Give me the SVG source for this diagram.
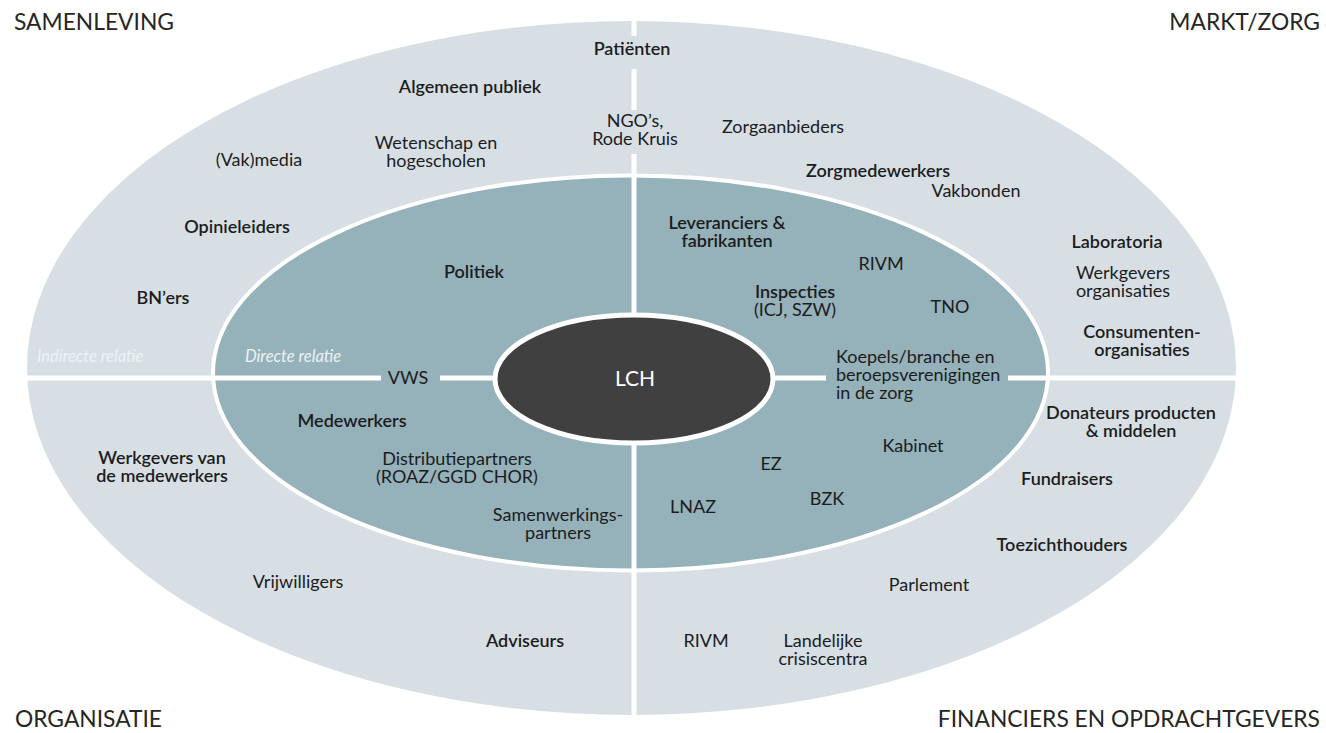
<svg xmlns="http://www.w3.org/2000/svg" width="1326" height="733" viewBox="0 0 1326 733">
  <style>
    text { font-family: Lato, "Liberation Sans", sans-serif; fill: #1c1c1c; }
    .t { font-size: 18px; text-anchor: middle; }
    .b { font-weight: 600; }
    .lft { text-anchor: start; }
    .title { font-size: 22.8px; fill: #262626; }
    .rel { font-size: 16.5px; font-style: italic; fill: #eef2f4; text-anchor: start; }
    .core { font-size: 21px; fill: #ffffff; text-anchor: middle; }
    .ring-outer { fill: #d7dfe5; }
    .ring-inner { fill: #95b1ba; stroke: #ffffff; stroke-width: 4; }
    .hub { fill: #404040; stroke: #ffffff; stroke-width: 5; }
    .div { stroke: #ffffff; stroke-width: 5; fill: none; }
  </style>

  <rect width="1326" height="733" fill="#ffffff"/>

  <!-- rings -->
  <g id="rings">
    <ellipse class="ring-outer" cx="631.5" cy="368" rx="604.5" ry="347"/>
    <ellipse class="ring-inner" cx="630.5" cy="373" rx="417.5" ry="197.5"/>
  </g>

  <!-- quadrant dividers -->
  <g id="connectors">
    <line class="div" x1="634" y1="18" x2="634" y2="36"/>
    <line class="div" x1="634" y1="69" x2="634" y2="110"/>
    <line class="div" x1="634" y1="154" x2="634" y2="318"/>
    <line class="div" x1="634" y1="440" x2="634" y2="718"/>
    <line class="div" x1="25" y1="378" x2="381" y2="378"/>
    <line class="div" x1="440" y1="378" x2="498" y2="378"/>
    <line class="div" x1="770" y1="378" x2="826" y2="378"/>
    <line class="div" x1="1008" y1="378" x2="1238" y2="378"/>
  </g>

  <!-- centre -->
  <g id="node-lch">
    <ellipse class="hub" cx="634" cy="379" rx="139" ry="64"/>
    <text class="core" x="635" y="386">LCH</text>
  </g>

  <!-- quadrant titles -->
  <g id="titles">
    <text class="title" x="14" y="30">SAMENLEVING</text>
    <text class="title" x="1320" y="30" text-anchor="end">MARKT/ZORG</text>
    <text class="title" x="15" y="727">ORGANISATIE</text>
    <text class="title" x="1320" y="727" text-anchor="end">FINANCIERS EN OPDRACHTGEVERS</text>
  </g>

  <g id="relation-labels">
    <text class="rel" x="37" y="362">Indirecte relatie</text>
    <text class="rel" x="245" y="362">Directe relatie</text>
  </g>

  <!-- outer ring: indirect relations -->
  <g id="node-patienten"><text class="t b" x="632" y="55">Patiënten</text></g>
  <g id="node-algemeen-publiek"><text class="t b" x="470" y="93">Algemeen publiek</text></g>
  <g id="node-ngos"><text class="t" x="635" y="127">NGO’s,</text><text class="t" x="635" y="145">Rode Kruis</text></g>
  <g id="node-wetenschap"><text class="t" x="436" y="149">Wetenschap en</text><text class="t" x="436" y="167">hogescholen</text></g>
  <g id="node-vakmedia"><text class="t" x="259" y="166">(Vak)media</text></g>
  <g id="node-zorgaanbieders"><text class="t" x="783" y="133">Zorgaanbieders</text></g>
  <g id="node-zorgmedewerkers"><text class="t b" x="878" y="177">Zorgmedewerkers</text></g>
  <g id="node-vakbonden"><text class="t" x="976" y="197">Vakbonden</text></g>
  <g id="node-opinieleiders"><text class="t b" x="237" y="233">Opinieleiders</text></g>
  <g id="node-laboratoria"><text class="t b" x="1117" y="248">Laboratoria</text></g>
  <g id="node-werkgevers-org"><text class="t" x="1123" y="279">Werkgevers</text><text class="t" x="1123" y="297">organisaties</text></g>
  <g id="node-bners"><text class="t b" x="163" y="304">BN’ers</text></g>
  <g id="node-consumenten"><text class="t b" x="1142" y="338">Consumenten-</text><text class="t b" x="1142" y="356">organisaties</text></g>
  <g id="node-donateurs"><text class="t b" x="1131" y="419">Donateurs producten</text><text class="t b" x="1131" y="437">&amp; middelen</text></g>
  <g id="node-werkgevers-mw"><text class="t b" x="162" y="464">Werkgevers van</text><text class="t b" x="162" y="482">de medewerkers</text></g>
  <g id="node-fundraisers"><text class="t b" x="1067" y="485">Fundraisers</text></g>
  <g id="node-toezichthouders"><text class="t b" x="1062" y="551">Toezichthouders</text></g>
  <g id="node-vrijwilligers"><text class="t" x="298" y="588">Vrijwilligers</text></g>
  <g id="node-parlement"><text class="t" x="929" y="591">Parlement</text></g>
  <g id="node-adviseurs"><text class="t b" x="525" y="647">Adviseurs</text></g>
  <g id="node-rivm-outer"><text class="t" x="706" y="647">RIVM</text></g>
  <g id="node-crisiscentra"><text class="t" x="823" y="647">Landelijke</text><text class="t" x="823" y="665">crisiscentra</text></g>

  <!-- inner ring: direct relations -->
  <g id="node-politiek"><text class="t b" x="474" y="278">Politiek</text></g>
  <g id="node-leveranciers"><text class="t b" x="727" y="229">Leveranciers &amp;</text><text class="t b" x="727" y="247">fabrikanten</text></g>
  <g id="node-rivm-inner"><text class="t" x="881" y="270">RIVM</text></g>
  <g id="node-inspecties"><text class="t b" x="795" y="298">Inspecties</text><text class="t" x="795" y="316">(ICJ, SZW)</text></g>
  <g id="node-tno"><text class="t" x="950" y="313">TNO</text></g>
  <g id="node-vws"><text class="t" x="408" y="384">VWS</text></g>
  <g id="node-koepels"><text class="t lft" x="836" y="363">Koepels/branche en</text><text class="t lft" x="836" y="381">beroepsverenigingen</text><text class="t lft" x="836" y="399">in de zorg</text></g>
  <g id="node-medewerkers"><text class="t b" x="352" y="427">Medewerkers</text></g>
  <g id="node-distributie"><text class="t" x="457" y="465">Distributiepartners</text><text class="t" x="457" y="483">(ROAZ/GGD CHOR)</text></g>
  <g id="node-kabinet"><text class="t" x="913" y="452">Kabinet</text></g>
  <g id="node-ez"><text class="t" x="771" y="470">EZ</text></g>
  <g id="node-bzk"><text class="t" x="827" y="505">BZK</text></g>
  <g id="node-lnaz"><text class="t" x="693" y="513">LNAZ</text></g>
  <g id="node-samenwerking"><text class="t" x="558" y="521">Samenwerkings-</text><text class="t" x="558" y="539">partners</text></g>
</svg>
